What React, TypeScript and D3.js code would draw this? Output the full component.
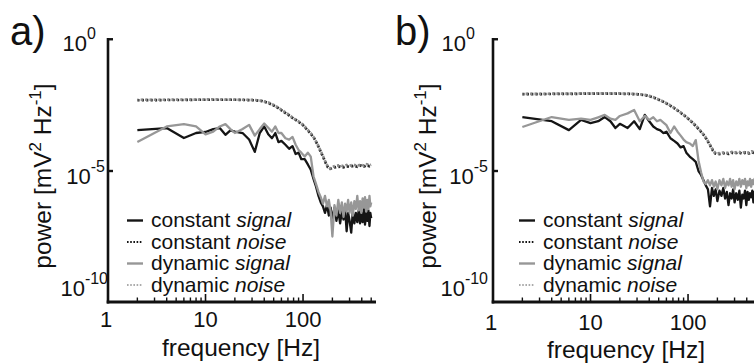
import React from "react";
import * as d3 from "d3";

// ---------- DATA ----------
const panelLabels = ["a)", "b)"];
const xTickLabels = ["1", "10", "100"];
const xTickValues = [1, 10, 100];
const yTickValues = [1, 1e-5, 1e-10];
const yTickExps = ["0", "-5", "-10"];
const legendNames = [
  ["constant ", "signal"],
  ["constant ", "noise"],
  ["dynamic ", "signal"],
  ["dynamic ", "noise"],
];

// frequencies (Hz) for the signal spectra
const sigFreq = [
  2, 4, 6, 8, 10, 12, 14, 16, 18, 20,
  24, 28, 32, 36, 40, 44, 48, 52, 56, 60, 66, 72, 78, 84, 90, 96,
  104, 112, 120, 128, 136, 144, 152, 160, 168, 176, 184, 192, 200,
  210, 220, 230, 240, 250, 260, 270, 280, 290, 300,
  312, 324, 336, 348, 360, 372, 384, 396, 408, 420, 432, 444, 456, 468, 480,
  490, 500,
];
// frequencies (Hz) for the noise spectra
const noiseFreq = [
  2, 4, 6, 8, 10, 14, 20, 26, 32, 38,
  44, 50, 56, 64, 72, 80, 90, 100, 110, 120,
  130, 140, 150, 160, 170, 180, 190, 200, 220, 240,
  260, 280, 300, 330, 360, 390, 420, 450, 480, 500,
];

// log10 power values [mV^2 Hz^-1]
const aConstSignal = [
  -3.44, -3.36, -3.74, -3.55, -3.51, -3.40, -3.36, -3.62, -3.45, -3.50,
  -3.55, -3.80, -4.27, -3.55, -3.30, -3.60, -3.75, -3.55, -3.90, -3.85, -4.00, -4.15, -4.05, -4.35, -4.30, -4.55,
  -4.55, -4.75, -4.95, -5.30, -5.60, -5.95, -6.20, -6.35, -6.60, -6.30, -6.70, -6.40, -6.85,
  -6.40, -6.90, -6.50, -7.00, -6.55, -6.85, -6.45, -7.30, -6.60, -6.90,
  -7.35, -6.55, -7.00, -6.60, -6.95, -6.50, -7.00, -6.60, -6.95, -6.45, -7.05, -6.60, -6.90, -6.50, -7.10,
  -6.60, -6.80,
];
const aDynSignal = [
  -3.89, -3.30, -3.21, -3.30, -3.60, -3.50, -3.30, -3.21, -3.40, -3.55,
  -3.40, -3.24, -3.65, -3.40, -3.19, -3.35, -3.50, -3.30, -3.55, -3.55, -3.75, -3.80, -3.70, -4.00, -4.20, -4.30,
  -4.45, -4.30, -4.45, -5.20, -5.50, -5.80, -6.00, -6.25, -5.95, -6.35, -6.10, -6.55, -7.50,
  -6.30, -6.70, -6.10, -6.60, -6.20, -6.75, -6.25, -6.55, -6.10, -6.60,
  -6.20, -6.70, -6.15, -6.45, -5.95, -6.50, -6.15, -6.60, -6.05, -6.40, -6.00, -6.55, -6.10, -6.45, -5.95,
  -6.35, -6.20,
];
const aConstNoise = [
  -2.30, -2.29, -2.29, -2.28, -2.28, -2.28, -2.28, -2.29, -2.30, -2.33,
  -2.40, -2.50, -2.60, -2.75, -2.88, -3.00, -3.12, -3.25, -3.42, -3.58,
  -3.75, -3.98, -4.22, -4.45, -4.68, -4.86, -4.92, -4.88, -4.85, -4.83,
  -4.86, -4.82, -4.84, -4.80, -4.84, -4.79, -4.83, -4.78, -4.82, -4.80,
];
const aDynNoise = [
  -2.28, -2.28, -2.27, -2.28, -2.27, -2.27, -2.28, -2.28, -2.29, -2.32,
  -2.38, -2.48, -2.59, -2.73, -2.86, -2.99, -3.11, -3.24, -3.40, -3.56,
  -3.74, -3.96, -4.20, -4.43, -4.66, -4.84, -4.90, -4.84, -4.80, -4.78,
  -4.82, -4.77, -4.80, -4.76, -4.81, -4.75, -4.79, -4.74, -4.78, -4.76,
];
const bConstSignal = [
  -2.94, -3.10, -3.44, -3.05, -3.17, -3.10, -2.94, -3.10, -3.36, -3.20,
  -3.36, -3.10, -3.40, -2.86, -3.10, -3.30, -3.40, -3.45, -3.55, -3.50, -3.75, -3.85, -3.95, -4.10, -4.05, -4.30,
  -4.45, -4.55, -4.65, -5.00, -5.15, -5.35, -5.55, -5.70, -6.35, -5.65, -5.95, -5.70, -6.15,
  -5.75, -5.95, -5.65, -6.05, -5.80, -6.30, -5.85, -6.05, -5.70, -6.20,
  -5.85, -6.10, -5.75, -6.40, -5.90, -6.05, -5.75, -6.30, -5.80, -6.10, -5.85, -6.00, -5.75, -6.20, -5.80,
  -6.05, -5.90,
];
const bDynSignal = [
  -3.32, -2.94, -3.05, -3.00, -3.05, -2.95, -2.86, -3.00, -3.05, -2.90,
  -2.80, -2.67, -3.10, -2.90, -3.05, -2.95, -3.10, -3.05, -3.15, -3.25, -3.55, -3.30, -3.50, -3.65, -3.80, -3.90,
  -3.95, -4.05, -3.82, -4.60, -5.05, -5.40, -5.50, -5.35, -5.55, -5.35, -5.60, -5.40, -5.70,
  -5.35, -5.55, -5.30, -5.65, -5.40, -5.55, -5.30, -5.60, -5.35, -5.70,
  -5.40, -5.55, -5.30, -5.60, -5.35, -5.50, -5.30, -5.65, -5.40, -5.55, -5.30, -5.60, -5.35, -5.50, -5.30,
  -5.55, -5.40,
];
const bConstNoise = [
  -2.07, -2.06, -2.06, -2.05, -2.05, -2.05, -2.05, -2.06, -2.08, -2.12,
  -2.19, -2.28, -2.36, -2.48, -2.60, -2.72, -2.86, -3.00, -3.14, -3.28,
  -3.42, -3.56, -3.70, -3.88, -4.05, -4.22, -4.33, -4.36, -4.34, -4.31,
  -4.35, -4.30, -4.33, -4.29, -4.34, -4.30, -4.33, -4.28, -4.32, -4.30,
];
const bDynNoise = [
  -2.06, -2.05, -2.05, -2.04, -2.04, -2.04, -2.04, -2.05, -2.07, -2.11,
  -2.18, -2.27, -2.35, -2.47, -2.59, -2.71, -2.85, -2.99, -3.13, -3.27,
  -3.41, -3.55, -3.69, -3.86, -4.03, -4.20, -4.31, -4.33, -4.31, -4.28,
  -4.32, -4.27, -4.30, -4.26, -4.31, -4.27, -4.30, -4.25, -4.29, -4.27,
];

// ---------- LAYOUT / STYLE ----------
const W = 754;
const H = 364;
const FONT = "'Liberation Sans', Arial, Helvetica, sans-serif";
const BLACK = "#151515";
const GRAY = "#979797";
const LIGHT = "#ababab";

type Series = { freq: number[]; vals: number[]; color: string; dashed: boolean };

const panels = [
  {
    off: 0,
    series: [
      { freq: sigFreq, vals: aConstSignal, color: BLACK, dashed: false },
      { freq: noiseFreq, vals: aConstNoise, color: "#2a2a2a", dashed: true },
      { freq: sigFreq, vals: aDynSignal, color: GRAY, dashed: false },
      { freq: noiseFreq, vals: aDynNoise, color: "#8a8a8a", dashed: true },
    ] as Series[],
    legendX: 0,
    yLabelEnd: [-12, -3, 0],
    xLabelBase: 327,
    titleBase: 356,
  },
  {
    off: 385,
    series: [
      { freq: sigFreq, vals: bConstSignal, color: BLACK, dashed: false },
      { freq: noiseFreq, vals: bConstNoise, color: "#2a2a2a", dashed: true },
      { freq: sigFreq, vals: bDynSignal, color: GRAY, dashed: false },
      { freq: noiseFreq, vals: bDynNoise, color: "#8a8a8a", dashed: true },
    ] as Series[],
    legendX: 7,
    yLabelEnd: [-18, -5, -5],
    xLabelBase: 330,
    titleBase: 358,
  },
];

const yLabelBaseDy = [11, 13, -6];
const legendStyles = [
  { color: BLACK, dash: "none", w: 2.4 },
  { color: BLACK, dash: "1.6 1.6", w: 2 },
  { color: GRAY, dash: "none", w: 2.4 },
  { color: LIGHT, dash: "1.6 1.6", w: 2 },
];

function Panel({ p, idx }: { p: (typeof panels)[number]; idx: number }) {
  const x0 = 108 + p.off;
  const x = d3.scaleLog().domain([1, 560]).range([x0, x0 + 268]);
  const y = d3.scaleLog().domain([1e-10, 1]).range([302, 40]);
  const minor: number[] = [];
  [1, 10, 100].forEach((d) => {
    for (let k = 2; k <= 9; k++) if (d * k <= 500) minor.push(d * k);
  });
  const line = (s: Series) =>
    d3
      .line<number>()
      .x((_, i) => x(s.freq[i]))
      .y((v) => y(Math.pow(10, v)))(s.vals) || "";

  return (
    <g>
      {/* panel label */}
      <text x={10 + p.off} y={45} fontSize={40} fontFamily={FONT} fill="#111">
        {panelLabels[idx]}
      </text>

      {/* data */}
      {p.series.map((s, i) => (
        <path
          key={i}
          d={line(s)}
          fill="none"
          stroke={s.color}
          strokeWidth={s.dashed ? 2.7 : 2.3}
          strokeDasharray={s.dashed ? "2.2 2.2" : undefined}
          strokeDashoffset={s.dashed && i === 3 ? 1.1 : 0}
          strokeLinejoin="round"
        />
      ))}

      {/* axes */}
      <line x1={x0} x2={x0} y1={38} y2={303.5} stroke="#111" strokeWidth={2.6} />
      <line x1={x0 - 1.3} x2={x0 + 268} y1={302} y2={302} stroke="#111" strokeWidth={3} />
      {yTickValues.slice(0, 2).map((v, i) => (
        <line key={i} x1={x0} x2={x0 + 5} y1={i === 0 ? y(v) - 0.75 : y(v)} y2={i === 0 ? y(v) - 0.75 : y(v)} stroke="#111" strokeWidth={2.4} />
      ))}
      {minor.map((f) => (
        <line key={f} x1={x(f)} x2={x(f)} y1={302} y2={297.5} stroke="#111" strokeWidth={1.4} />
      ))}
      {xTickValues.slice(1).map((f) => (
        <line key={f} x1={x(f)} x2={x(f)} y1={302} y2={294} stroke="#111" strokeWidth={1.6} />
      ))}

      {/* y tick labels */}
      {yTickValues.map((v, i) => (
        <text
          key={i}
          x={x0 + p.yLabelEnd[i]}
          y={y(v) + yLabelBaseDy[i]}
          textAnchor="end"
          fontSize={22}
          fontFamily={FONT}
          fill="#111"
        >
          10
          <tspan fontSize={16} dy={-12}>
            {yTickExps[i]}
          </tspan>
        </text>
      ))}

      {/* x tick labels */}
      {xTickValues.map((v, i) => (
        <text
          key={i}
          x={x(v) - (i === 0 ? 2 : 0)}
          y={p.xLabelBase}
          textAnchor="middle"
          fontSize={22}
          fontFamily={FONT}
          fill="#111"
        >
          {xTickLabels[i]}
        </text>
      ))}

      {/* axis titles */}
      <text x={x0 + 133} y={p.titleBase} textAnchor="middle" fontSize={24.5} fontFamily={FONT} fill="#111">
        frequency [Hz]
      </text>
      <text
        transform={`translate(${x0 - 57},176) rotate(-90)`}
        textAnchor="middle"
        fontSize={24.5}
        fontFamily={FONT}
        fill="#111"
      >
        power [mV
        <tspan fontSize={17} dy={-10}>2</tspan>
        <tspan dy={10}> Hz</tspan>
        <tspan fontSize={17} dy={-10}>-1</tspan>
        <tspan dy={10}>]</tspan>
      </text>

      {/* legend */}
      {legendNames.map((n, i) => {
        const by = 227 + i * 21.5;
        const lx = x0 + 19 + p.legendX;
        return (
          <g key={i}>
            <line
              x1={lx}
              x2={lx + 16}
              y1={by - 6.5}
              y2={by - 6.5}
              stroke={legendStyles[i].color}
              strokeWidth={legendStyles[i].w}
              strokeDasharray={legendStyles[i].dash}
            />
            <text x={lx + 24} y={by} fontSize={21} fontFamily={FONT} fill="#111">
              {n[0]}
              <tspan fontStyle="italic">{n[1]}</tspan>
            </text>
          </g>
        );
      })}
    </g>
  );
}

export default function App() {
  return (
    <svg
      width={W}
      height={H}
      viewBox={`0 0 ${W} ${H}`}
      style={{ position: "absolute", left: 0, top: 0, background: "#fff" }}
    >
      <rect width={W} height={H} fill="#fff" />
      {panels.map((p, i) => (
        <Panel key={i} p={p} idx={i} />
      ))}
    </svg>
  );
}
